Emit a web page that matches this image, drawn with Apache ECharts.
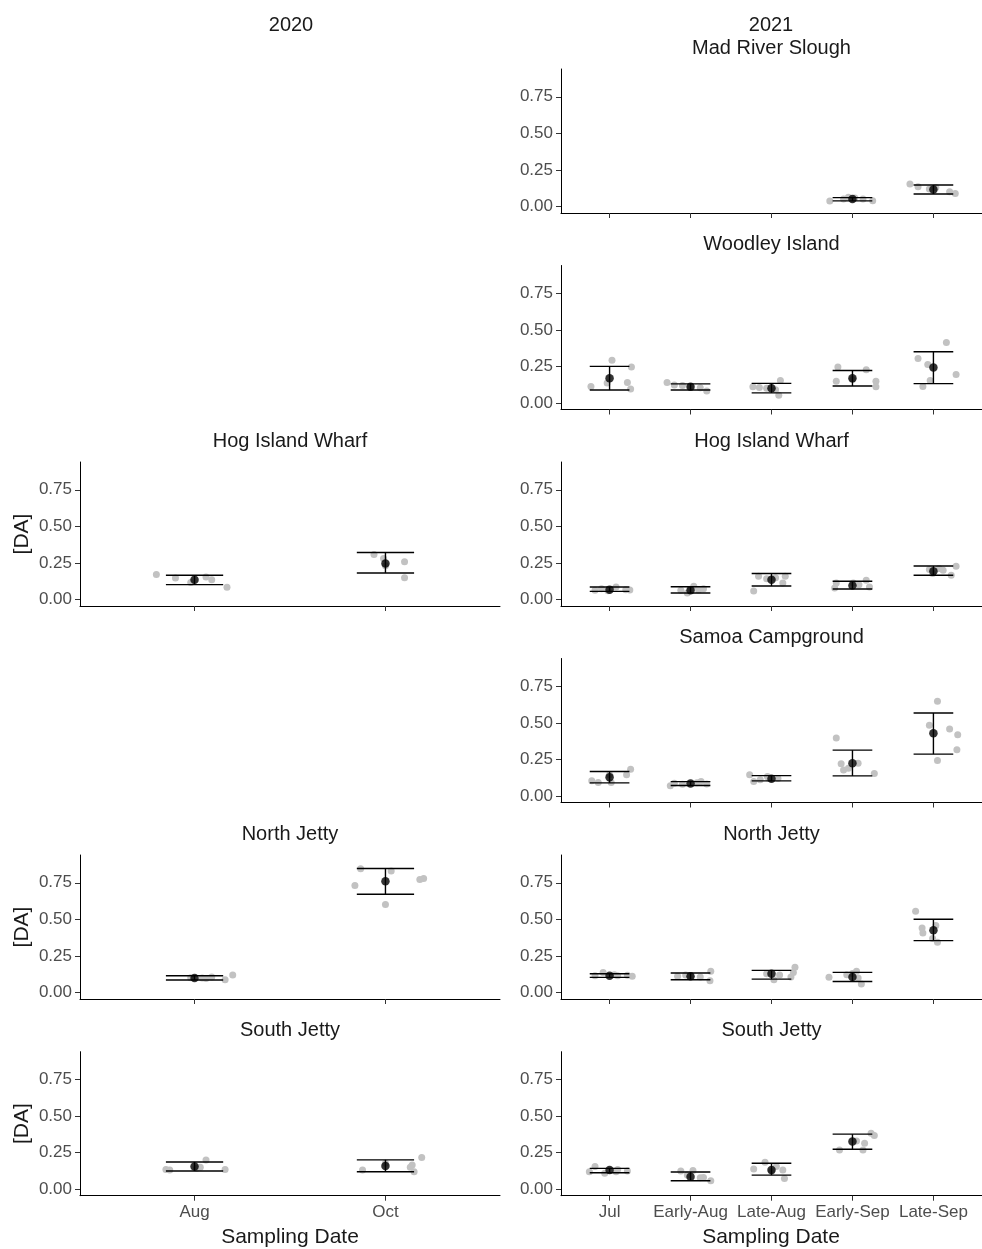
<!DOCTYPE html>
<html>
<head>
<meta charset="utf-8">
<script src="https://cdn.jsdelivr.net/npm/echarts@6/dist/echarts.min.js"></script>
<style>html,body{margin:0;padding:0;background:#fff}#chart{width:982px;height:1249px}</style>
</head>
<body>
<div id="chart"></div>
<script>
// ---------- DATA ----------
const cats2020 = ['Aug', 'Oct'];
const cats2021 = ['Jul', 'Early-Aug', 'Late-Aug', 'Early-Sep', 'Late-Sep'];
const yTicks = [0, 0.25, 0.5, 0.75];

// raw points: [category index (1-based), jitter, value]
const mrs21Mean = [null, null, null, 0.05, 0.115];
const mrs21Lo   = [null, null, null, 0.038, 0.085];
const mrs21Hi   = [null, null, null, 0.06, 0.147];
const mrs21Pts = [
  [4,-0.28,0.037],[4,-0.11,0.05],[4,-0.05,0.062],[4,0.03,0.057],[4,0.13,0.05],[4,0.25,0.039],
  [5,-0.29,0.154],[5,-0.19,0.135],[5,-0.05,0.12],[5,0.03,0.13],[5,0.2,0.1],[5,0.27,0.089]
];

const wi21Mean = [0.169, 0.111, 0.10, 0.169, 0.243];
const wi21Lo   = [0.088, 0.088, 0.069, 0.116, 0.132];
const wi21Hi   = [0.25, 0.13, 0.134, 0.222, 0.35];
const wi21Pts = [
  [1,-0.23,0.113],[1,0.03,0.292],[1,-0.03,0.137],[1,0.22,0.139],[1,0.27,0.245],[1,0.26,0.095],
  [2,-0.29,0.139],[2,-0.2,0.123],[2,0,0.111],[2,0.12,0.104],[2,0.2,0.081],[2,-0.1,0.12],
  [3,-0.23,0.111],[3,-0.06,0.1],[3,0.11,0.153],[3,0.09,0.053],[3,0.05,0.09],[3,-0.15,0.105],
  [4,-0.18,0.245],[4,-0.2,0.148],[4,0.17,0.227],[4,0.29,0.148],[4,0.29,0.111],[4,0.0,0.16],
  [5,-0.19,0.303],[5,-0.07,0.262],[5,-0.13,0.113],[5,-0.04,0.153],[5,0.16,0.414],[5,0.28,0.194]
];

const hiw21Mean = [0.067, 0.062, 0.135, 0.096, 0.193];
const hiw21Lo   = [0.055, 0.044, 0.092, 0.071, 0.165];
const hiw21Hi   = [0.085, 0.087, 0.177, 0.124, 0.229];
const hiw21Pts = [
  [1,-0.18,0.062],[1,-0.1,0.073],[1,0.08,0.085],[1,0.2,0.067],[1,0.25,0.065],[1,-0.02,0.06],
  [2,-0.12,0.062],[2,0.04,0.09],[2,0.1,0.065],[2,-0.04,0.044],[2,0.16,0.073],[2,0.0,0.07],
  [3,-0.22,0.057],[3,-0.16,0.158],[3,0.05,0.149],[3,0.14,0.112],[3,0.17,0.158],[3,-0.06,0.142],
  [4,-0.22,0.078],[4,-0.2,0.112],[4,0.01,0.112],[4,0.17,0.131],[4,0.21,0.085],[4,0.08,0.1],
  [5,-0.05,0.204],[5,0.07,0.211],[5,0.28,0.227],[5,0.22,0.165],[5,-0.01,0.177],[5,0.12,0.2]
];

const sc21Mean = [0.128, 0.085, 0.117, 0.224, 0.428];
const sc21Lo   = [0.089, 0.071, 0.103, 0.137, 0.286];
const sc21Hi   = [0.167, 0.098, 0.139, 0.313, 0.567];
const sc21Pts = [
  [1,-0.22,0.103],[1,-0.14,0.091],[1,0.02,0.091],[1,0,0.144],[1,0.21,0.144],[1,0.26,0.183],
  [2,-0.25,0.069],[2,-0.2,0.087],[2,0.08,0.09],[2,0.13,0.098],[2,0.2,0.082],[2,-0.1,0.08],
  [3,-0.27,0.144],[3,-0.22,0.098],[3,-0.14,0.11],[3,-0.05,0.133],[3,-0.03,0.12],[3,0.08,0.12],
  [4,-0.2,0.396],[4,-0.14,0.22],[4,-0.11,0.178],[4,-0.05,0.19],[4,0.07,0.224],[4,0.27,0.153],
  [5,0.05,0.647],[5,-0.05,0.483],[5,0.2,0.457],[5,0.3,0.418],[5,0.29,0.316],[5,0.05,0.242]
];

const nj21Mean = [0.114, 0.11, 0.128, 0.105, 0.425];
const nj21Lo   = [0.103, 0.087, 0.091, 0.075, 0.354];
const nj21Hi   = [0.128, 0.133, 0.151, 0.137, 0.501];
const nj21Pts = [
  [1,-0.18,0.114],[1,-0.08,0.137],[1,0.1,0.114],[1,0.22,0.117],[1,0.28,0.11],[1,0.06,0.121],
  [2,-0.16,0.11],[2,-0.06,0.119],[2,0.12,0.105],[2,0.25,0.144],[2,0.24,0.08],[2,0.0,0.11],
  [3,-0.06,0.128],[3,0.03,0.087],[3,0.24,0.105],[3,0.29,0.172],[3,0.27,0.137],[3,0.1,0.12],
  [4,-0.29,0.103],[4,0.05,0.144],[4,0.11,0.057],[4,0.07,0.098],[4,-0.07,0.121],[4,0.0,0.13],
  [5,-0.22,0.556],[5,-0.14,0.441],[5,-0.13,0.407],[5,0.03,0.457],[5,-0.01,0.368],[5,0.05,0.343]
];

const sj21Mean = [0.131, 0.085, 0.131, 0.326, null];
const sj21Lo   = [0.112, 0.057, 0.096, 0.273, null];
const sj21Hi   = [0.142, 0.117, 0.177, 0.376, null];
const sj21Pts = [
  [1,-0.25,0.119],[1,-0.18,0.154],[1,-0.06,0.108],[1,0.08,0.119],[1,0.22,0.124],[1,0.1,0.135],
  [2,-0.12,0.124],[2,0.03,0.128],[2,0.12,0.078],[2,0.16,0.08],[2,0.25,0.057],[2,-0.04,0.096],
  [3,-0.22,0.138],[3,-0.08,0.183],[3,0.14,0.131],[3,0.16,0.073],[3,0.06,0.154],[3,0,0.12],
  [4,-0.16,0.268],[4,0.13,0.268],[4,0.15,0.314],[4,0.23,0.383],[4,0.27,0.367],[4,0.05,0.33]
];

const hiw20Mean = [0.135, 0.245];
const hiw20Lo   = [0.101, 0.181];
const hiw20Hi   = [0.165, 0.321];
const hiw20Pts = [
  [1,-0.2,0.17],[1,-0.1,0.147],[1,-0.02,0.115],[1,0.06,0.154],[1,0.09,0.135],[1,0.17,0.083],
  [2,-0.06,0.307],[2,-0.01,0.28],[2,0.1,0.257],[2,0.1,0.149],[2,0.0,0.23]
];

const nj20Mean = [0.098, 0.761];
const nj20Lo   = [0.085, 0.672];
const nj20Hi   = [0.114, 0.848];
const nj20Pts = [
  [1,0.04,0.098],[1,0.09,0.105],[1,0.16,0.087],[1,0.2,0.119],[1,0.06,0.095],[1,-0.02,0.1],
  [2,-0.13,0.846],[2,-0.16,0.732],[2,0.03,0.83],[2,0.0,0.601],[2,0.18,0.773],[2,0.2,0.78]
];

const sj20Mean = [0.154, 0.158];
const sj20Lo   = [0.124, 0.119];
const sj20Hi   = [0.186, 0.2];
const sj20Pts = [
  [1,-0.15,0.135],[1,-0.13,0.131],[1,0.06,0.2],[1,0.01,0.142],[1,0.16,0.135],[1,0.03,0.15],
  [2,-0.12,0.131],[2,0.0,0.177],[2,0.14,0.165],[2,0.15,0.119],[2,0.19,0.216],[2,0.13,0.15]
];

// ---------- LAYOUT ----------
const FONT = "'Liberation Sans', Arial, Helvetica, sans-serif";
const rowTops = [69, 265.5, 462, 658.5, 855, 1051.7];
const PH = 144;
const colLeft = [80, 561];
const colWidth = [420, 421];

const panels = [
  {col:1,row:0,title:'Mad River Slough',cats:cats2021,mean:mrs21Mean,lo:mrs21Lo,hi:mrs21Hi,pts:mrs21Pts},
  {col:1,row:1,title:'Woodley Island',cats:cats2021,mean:wi21Mean,lo:wi21Lo,hi:wi21Hi,pts:wi21Pts},
  {col:0,row:2,title:'Hog Island Wharf',cats:cats2020,mean:hiw20Mean,lo:hiw20Lo,hi:hiw20Hi,pts:hiw20Pts},
  {col:1,row:2,title:'Hog Island Wharf',cats:cats2021,mean:hiw21Mean,lo:hiw21Lo,hi:hiw21Hi,pts:hiw21Pts},
  {col:1,row:3,title:'Samoa Campground',cats:cats2021,mean:sc21Mean,lo:sc21Lo,hi:sc21Hi,pts:sc21Pts},
  {col:0,row:4,title:'North Jetty',cats:cats2020,mean:nj20Mean,lo:nj20Lo,hi:nj20Hi,pts:nj20Pts},
  {col:1,row:4,title:'North Jetty',cats:cats2021,mean:nj21Mean,lo:nj21Lo,hi:nj21Hi,pts:nj21Pts},
  {col:0,row:5,title:'South Jetty',cats:cats2020,mean:sj20Mean,lo:sj20Lo,hi:sj20Hi,pts:sj20Pts},
  {col:1,row:5,title:'South Jetty',cats:cats2021,mean:sj21Mean,lo:sj21Lo,hi:sj21Hi,pts:sj21Pts}
];

const grids = [], xAxes = [], yAxes = [], series = [], graphics = [];
const axisLineStyle = {color:'#000', width:1};

function txt(x, y, s, size, color, rot) {
  const o = {type:'text', x:x, y:y, silent:true,
    style:{text:s, font: size + 'px ' + FONT, fill:color, align:'center', verticalAlign:'middle',
           textAlign:'center', textVerticalAlign:'middle'}};
  if (rot) o.rotation = rot;
  return o;
}

panels.forEach((p, i) => {
  const left = colLeft[p.col], width = colWidth[p.col], top = rowTops[p.row];
  const n = p.cats.length;
  const tickPos = p.cats.map((_, k) => k + 1);
  const bottomRow = p.row === 5;
  const capHalf = p.col === 0 ? 0.15 : 0.245;

  grids.push({left:left, top:top, width:width, height:PH, containLabel:false});
  xAxes.push({
    gridIndex:i, type:'value', min:0.4, max:n + 0.6,
    splitLine:{show:false},
    axisLine:{show:true, onZero:false, lineStyle:axisLineStyle},
    axisTick:{show:true, customValues:tickPos, length:5, lineStyle:{color:'#333', width:1}},
    axisLabel:{show:bottomRow, customValues:tickPos, formatter:(v) => p.cats[Math.round(v) - 1] || '',
      fontSize:17, color:'#4d4d4d', margin:8, fontFamily:FONT}
  });
  yAxes.push({
    gridIndex:i, type:'value', min:-0.045, max:0.94,
    splitLine:{show:false},
    axisLine:{show:true, onZero:false, lineStyle:axisLineStyle},
    axisTick:{show:true, customValues:yTicks, length:5, lineStyle:{color:'#333', width:1}},
    axisLabel:{customValues:yTicks, formatter:(v) => Number(v).toFixed(2),
      fontSize:17, color:'#4d4d4d', margin:8, fontFamily:FONT}
  });

  series.push({
    type:'scatter', xAxisIndex:i, yAxisIndex:i, symbolSize:7, z:2, silent:true,
    itemStyle:{color:'#c2c2c2', opacity:1},
    data:p.pts.map(d => [d[0] + d[1], d[2]])
  });
  const eb = [];
  p.mean.forEach((m, k) => { if (m != null) eb.push([k + 1, p.lo[k], p.hi[k]]); });
  series.push({
    type:'custom', xAxisIndex:i, yAxisIndex:i, z:3, silent:true,
    data:eb,
    renderItem:(params, api) => {
      const x = api.value(0), lo = api.value(1), hi = api.value(2);
      const a = api.coord([x, hi]), b = api.coord([x, lo]);
      const l1 = api.coord([x - capHalf, hi]), r1 = api.coord([x + capHalf, hi]);
      const l2 = api.coord([x - capHalf, lo]), r2 = api.coord([x + capHalf, lo]);
      const st = {stroke:'#000', lineWidth:1.4};
      return {type:'group', children:[
        {type:'line', shape:{x1:a[0],y1:a[1],x2:b[0],y2:b[1]}, style:st},
        {type:'line', shape:{x1:l1[0],y1:l1[1],x2:r1[0],y2:r1[1]}, style:st},
        {type:'line', shape:{x1:l2[0],y1:l2[1],x2:r2[0],y2:r2[1]}, style:st}
      ]};
    }
  });
  const md = [];
  p.mean.forEach((m, k) => { if (m != null) md.push([k + 1, m]); });
  series.push({
    type:'scatter', xAxisIndex:i, yAxisIndex:i, symbolSize:8.5, z:4, silent:true,
    itemStyle:{color:'#000'}, data:md
  });

  graphics.push(txt(left + width / 2, top - 21, p.title, 20, '#1a1a1a'));
  if (p.col === 0) graphics.push(txt(22, top + PH / 2, '[DA]', 21, '#1a1a1a', Math.PI / 2));
});

graphics.push(txt(291, 25, '2020', 20, '#1a1a1a'));
graphics.push(txt(771, 25, '2021', 20, '#1a1a1a'));
graphics.push(txt(290, 1237, 'Sampling Date', 21, '#1a1a1a'));
graphics.push(txt(771, 1237, 'Sampling Date', 21, '#1a1a1a'));

const chart = echarts.init(document.getElementById('chart'), null, {renderer:'canvas'});
chart.setOption({
  backgroundColor:'#fff',
  animation:false,
  grid:grids, xAxis:xAxes, yAxis:yAxes, series:series,
  graphic:{elements:graphics}
});
</script>
</body>
</html>
